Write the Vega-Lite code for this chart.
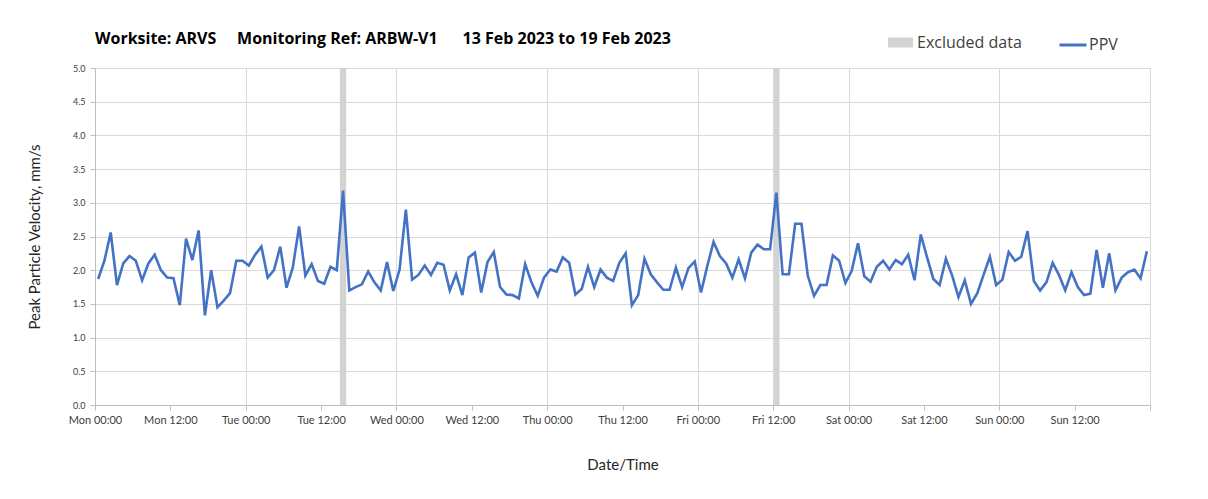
{
  "$schema": "https://vega.github.io/schema/vega-lite/v6.json",
  "width": 1055,
  "height": 337,
  "autosize": {"type": "none"},
  "padding": {"left": 95, "top": 68, "right": 58, "bottom": 94},
  "background": "white",
  "config": {"view": {"stroke": null}, "font": "Lato"},
  "title": {
    "text": "Worksite: ARVS\u00a0\u00a0\u00a0\u00a0 Monitoring Ref: ARBW-V1\u00a0\u00a0\u00a0\u00a0\u00a0 13 Feb 2023 to 19 Feb 2023",
    "anchor": "start", "frame": "group", "offset": -17, "fontSize": 16, "fontWeight": "bold", "color": "#000000", "font": "Open Sans"
  },
  "datasets": {
    "ppv": [
      {"t": "2023-02-13T00:30", "v": 1.87}, {"t": "2023-02-13T01:30", "v": 2.14}, {"t": "2023-02-13T02:30", "v": 2.56}, {"t": "2023-02-13T03:30", "v": 1.78},
      {"t": "2023-02-13T04:30", "v": 2.10}, {"t": "2023-02-13T05:30", "v": 2.21}, {"t": "2023-02-13T06:30", "v": 2.14}, {"t": "2023-02-13T07:30", "v": 1.85},
      {"t": "2023-02-13T08:30", "v": 2.10}, {"t": "2023-02-13T09:30", "v": 2.23}, {"t": "2023-02-13T10:30", "v": 2.00}, {"t": "2023-02-13T11:30", "v": 1.89},
      {"t": "2023-02-13T12:30", "v": 1.88}, {"t": "2023-02-13T13:30", "v": 1.48}, {"t": "2023-02-13T14:30", "v": 2.47}, {"t": "2023-02-13T15:30", "v": 2.15},
      {"t": "2023-02-13T16:30", "v": 2.59}, {"t": "2023-02-13T17:30", "v": 1.33}, {"t": "2023-02-13T18:30", "v": 2.00}, {"t": "2023-02-13T19:30", "v": 1.45},
      {"t": "2023-02-13T20:30", "v": 1.55}, {"t": "2023-02-13T21:30", "v": 1.66}, {"t": "2023-02-13T22:30", "v": 2.14}, {"t": "2023-02-13T23:30", "v": 2.14},
      {"t": "2023-02-14T00:30", "v": 2.07}, {"t": "2023-02-14T01:30", "v": 2.23}, {"t": "2023-02-14T02:30", "v": 2.35}, {"t": "2023-02-14T03:30", "v": 1.89},
      {"t": "2023-02-14T04:30", "v": 2.00}, {"t": "2023-02-14T05:30", "v": 2.35}, {"t": "2023-02-14T06:30", "v": 1.74}, {"t": "2023-02-14T07:30", "v": 2.04},
      {"t": "2023-02-14T08:30", "v": 2.65}, {"t": "2023-02-14T09:30", "v": 1.92}, {"t": "2023-02-14T10:30", "v": 2.09}, {"t": "2023-02-14T11:30", "v": 1.84},
      {"t": "2023-02-14T12:30", "v": 1.80}, {"t": "2023-02-14T13:30", "v": 2.05}, {"t": "2023-02-14T14:30", "v": 2.00}, {"t": "2023-02-14T15:30", "v": 3.18},
      {"t": "2023-02-14T16:30", "v": 1.70}, {"t": "2023-02-14T17:30", "v": 1.75}, {"t": "2023-02-14T18:30", "v": 1.79}, {"t": "2023-02-14T19:30", "v": 1.98},
      {"t": "2023-02-14T20:30", "v": 1.82}, {"t": "2023-02-14T21:30", "v": 1.70}, {"t": "2023-02-14T22:30", "v": 2.12}, {"t": "2023-02-14T23:30", "v": 1.69},
      {"t": "2023-02-15T00:30", "v": 2.01}, {"t": "2023-02-15T01:30", "v": 2.90}, {"t": "2023-02-15T02:30", "v": 1.86}, {"t": "2023-02-15T03:30", "v": 1.93},
      {"t": "2023-02-15T04:30", "v": 2.07}, {"t": "2023-02-15T05:30", "v": 1.93}, {"t": "2023-02-15T06:30", "v": 2.11}, {"t": "2023-02-15T07:30", "v": 2.08},
      {"t": "2023-02-15T08:30", "v": 1.70}, {"t": "2023-02-15T09:30", "v": 1.94}, {"t": "2023-02-15T10:30", "v": 1.63}, {"t": "2023-02-15T11:30", "v": 2.19},
      {"t": "2023-02-15T12:30", "v": 2.26}, {"t": "2023-02-15T13:30", "v": 1.67}, {"t": "2023-02-15T14:30", "v": 2.12}, {"t": "2023-02-15T15:30", "v": 2.27},
      {"t": "2023-02-15T16:30", "v": 1.75}, {"t": "2023-02-15T17:30", "v": 1.64}, {"t": "2023-02-15T18:30", "v": 1.63}, {"t": "2023-02-15T19:30", "v": 1.58},
      {"t": "2023-02-15T20:30", "v": 2.09}, {"t": "2023-02-15T21:30", "v": 1.82}, {"t": "2023-02-15T22:30", "v": 1.62}, {"t": "2023-02-15T23:30", "v": 1.89},
      {"t": "2023-02-16T00:30", "v": 2.01}, {"t": "2023-02-16T01:30", "v": 1.98}, {"t": "2023-02-16T02:30", "v": 2.19}, {"t": "2023-02-16T03:30", "v": 2.11},
      {"t": "2023-02-16T04:30", "v": 1.64}, {"t": "2023-02-16T05:30", "v": 1.72}, {"t": "2023-02-16T06:30", "v": 2.05}, {"t": "2023-02-16T07:30", "v": 1.75},
      {"t": "2023-02-16T08:30", "v": 2.01}, {"t": "2023-02-16T09:30", "v": 1.89}, {"t": "2023-02-16T10:30", "v": 1.84}, {"t": "2023-02-16T11:30", "v": 2.11},
      {"t": "2023-02-16T12:30", "v": 2.25}, {"t": "2023-02-16T13:30", "v": 1.48}, {"t": "2023-02-16T14:30", "v": 1.63}, {"t": "2023-02-16T15:30", "v": 2.17},
      {"t": "2023-02-16T16:30", "v": 1.94}, {"t": "2023-02-16T17:30", "v": 1.82}, {"t": "2023-02-16T18:30", "v": 1.71}, {"t": "2023-02-16T19:30", "v": 1.71},
      {"t": "2023-02-16T20:30", "v": 2.04}, {"t": "2023-02-16T21:30", "v": 1.75}, {"t": "2023-02-16T22:30", "v": 2.03}, {"t": "2023-02-16T23:30", "v": 2.13},
      {"t": "2023-02-17T00:30", "v": 1.67}, {"t": "2023-02-17T01:30", "v": 2.06}, {"t": "2023-02-17T02:30", "v": 2.42}, {"t": "2023-02-17T03:30", "v": 2.21},
      {"t": "2023-02-17T04:30", "v": 2.10}, {"t": "2023-02-17T05:30", "v": 1.89}, {"t": "2023-02-17T06:30", "v": 2.16}, {"t": "2023-02-17T07:30", "v": 1.88},
      {"t": "2023-02-17T08:30", "v": 2.26}, {"t": "2023-02-17T09:30", "v": 2.38}, {"t": "2023-02-17T10:30", "v": 2.31}, {"t": "2023-02-17T11:30", "v": 2.31},
      {"t": "2023-02-17T12:30", "v": 3.15}, {"t": "2023-02-17T13:30", "v": 1.94}, {"t": "2023-02-17T14:30", "v": 1.94}, {"t": "2023-02-17T15:30", "v": 2.69},
      {"t": "2023-02-17T16:30", "v": 2.69}, {"t": "2023-02-17T17:30", "v": 1.92}, {"t": "2023-02-17T18:30", "v": 1.62}, {"t": "2023-02-17T19:30", "v": 1.78},
      {"t": "2023-02-17T20:30", "v": 1.78}, {"t": "2023-02-17T21:30", "v": 2.22}, {"t": "2023-02-17T22:30", "v": 2.14}, {"t": "2023-02-17T23:30", "v": 1.81},
      {"t": "2023-02-18T00:30", "v": 1.99}, {"t": "2023-02-18T01:30", "v": 2.40}, {"t": "2023-02-18T02:30", "v": 1.91}, {"t": "2023-02-18T03:30", "v": 1.83},
      {"t": "2023-02-18T04:30", "v": 2.05}, {"t": "2023-02-18T05:30", "v": 2.14}, {"t": "2023-02-18T06:30", "v": 2.01}, {"t": "2023-02-18T07:30", "v": 2.15},
      {"t": "2023-02-18T08:30", "v": 2.09}, {"t": "2023-02-18T09:30", "v": 2.23}, {"t": "2023-02-18T10:30", "v": 1.85}, {"t": "2023-02-18T11:30", "v": 2.53},
      {"t": "2023-02-18T12:30", "v": 2.19}, {"t": "2023-02-18T13:30", "v": 1.87}, {"t": "2023-02-18T14:30", "v": 1.78}, {"t": "2023-02-18T15:30", "v": 2.17},
      {"t": "2023-02-18T16:30", "v": 1.92}, {"t": "2023-02-18T17:30", "v": 1.60}, {"t": "2023-02-18T18:30", "v": 1.85}, {"t": "2023-02-18T19:30", "v": 1.50},
      {"t": "2023-02-18T20:30", "v": 1.66}, {"t": "2023-02-18T21:30", "v": 1.93}, {"t": "2023-02-18T22:30", "v": 2.20}, {"t": "2023-02-18T23:30", "v": 1.78},
      {"t": "2023-02-19T00:30", "v": 1.86}, {"t": "2023-02-19T01:30", "v": 2.27}, {"t": "2023-02-19T02:30", "v": 2.14}, {"t": "2023-02-19T03:30", "v": 2.20},
      {"t": "2023-02-19T04:30", "v": 2.58}, {"t": "2023-02-19T05:30", "v": 1.84}, {"t": "2023-02-19T06:30", "v": 1.70}, {"t": "2023-02-19T07:30", "v": 1.82},
      {"t": "2023-02-19T08:30", "v": 2.11}, {"t": "2023-02-19T09:30", "v": 1.93}, {"t": "2023-02-19T10:30", "v": 1.70}, {"t": "2023-02-19T11:30", "v": 1.97},
      {"t": "2023-02-19T12:30", "v": 1.75}, {"t": "2023-02-19T13:30", "v": 1.63}, {"t": "2023-02-19T14:30", "v": 1.65}, {"t": "2023-02-19T15:30", "v": 2.30},
      {"t": "2023-02-19T16:30", "v": 1.74}, {"t": "2023-02-19T17:30", "v": 2.25}, {"t": "2023-02-19T18:30", "v": 1.70}, {"t": "2023-02-19T19:30", "v": 1.89},
      {"t": "2023-02-19T20:30", "v": 1.97}, {"t": "2023-02-19T21:30", "v": 2.01}, {"t": "2023-02-19T22:30", "v": 1.88}, {"t": "2023-02-19T23:30", "v": 2.28}
    ],
    "excluded": [
      {"start": "2023-02-14T15:00", "end": "2023-02-14T16:00"},
      {"start": "2023-02-17T12:00", "end": "2023-02-17T13:00"}
    ]
  },
  "layer": [
    {
      "data": {"name": "excluded"},
      "mark": {"type": "rect"},
      "encoding": {
        "x": {
          "field": "start", "type": "temporal",
          "scale": {"domain": [{"year": 2023, "month": 2, "date": 13}, {"year": 2023, "month": 2, "date": 20}]},
          "axis": {
            "title": "Date/Time",
            "values": [
              {"year": 2023, "month": 2, "date": 13, "hours": 0}, {"year": 2023, "month": 2, "date": 13, "hours": 12},
              {"year": 2023, "month": 2, "date": 14, "hours": 0}, {"year": 2023, "month": 2, "date": 14, "hours": 12},
              {"year": 2023, "month": 2, "date": 15, "hours": 0}, {"year": 2023, "month": 2, "date": 15, "hours": 12},
              {"year": 2023, "month": 2, "date": 16, "hours": 0}, {"year": 2023, "month": 2, "date": 16, "hours": 12},
              {"year": 2023, "month": 2, "date": 17, "hours": 0}, {"year": 2023, "month": 2, "date": 17, "hours": 12},
              {"year": 2023, "month": 2, "date": 18, "hours": 0}, {"year": 2023, "month": 2, "date": 18, "hours": 12},
              {"year": 2023, "month": 2, "date": 19, "hours": 0}, {"year": 2023, "month": 2, "date": 19, "hours": 12},
              {"year": 2023, "month": 2, "date": 20, "hours": 0}
            ],
            "labelExpr": "date(datum.value) == 20 ? '' : timeFormat(datum.value, '%a %H:%M')",
            "grid": true,
            "gridColor": "#d9d9d9",
            "gridOpacity": {"condition": {"test": "hours(datum.value) == 0 && date(datum.value) != 13", "value": 1}, "value": 0},
            "domainColor": "#bfbfbf",
            "tickColor": "#bfbfbf",
            "tickSize": 5,
            "labelFontSize": 11,
            "labelColor": "#404040",
            "labelPadding": 4,
            "labelFlush": false,
            "labelOverlap": false,
            "titleFontSize": 15,
            "titleFontWeight": "normal",
            "titleColor": "#262626",
            "titlePadding": 32
          }
        },
        "x2": {"field": "end"},
        "fill": {
          "datum": "Excluded data", "type": "nominal",
          "scale": {"range": ["#d3d3d3"]},
          "legend": {
            "orient": "none", "legendX": 793, "legendY": -38, "title": null, "padding": 0,
            "symbolType": "M-1,-0.4H1V0.4H-1Z", "symbolSize": 625, "symbolStrokeWidth": 0,
            "labelFont": "Open Sans", "labelFontSize": 16, "labelColor": "#404040", "labelOffset": 4
          }
        }
      }
    },
    {
      "data": {"name": "ppv"},
      "mark": {"type": "line", "strokeWidth": 2.6},
      "encoding": {
        "x": {"field": "t", "type": "temporal"},
        "y": {
          "field": "v", "type": "quantitative",
          "scale": {"domain": [0, 5], "nice": false},
          "axis": {
            "title": "Peak Particle Velocity, mm/s",
            "values": [0, 0.5, 1, 1.5, 2, 2.5, 3, 3.5, 4, 4.5, 5],
            "format": ".1f",
            "gridColor": "#d9d9d9",
            "domainColor": "#bfbfbf",
            "tickColor": "#bfbfbf",
            "tickSize": 5,
            "labelFontSize": 9,
            "labelColor": "#404040",
            "labelPadding": 5,
            "titleFontSize": 15,
            "titleFontWeight": "normal",
            "titleColor": "#262626",
            "titlePadding": 30
          }
        },
        "stroke": {
          "datum": "PPV", "type": "nominal",
          "scale": {"range": ["#4472c4"]},
          "legend": {
            "orient": "none", "legendX": 963, "legendY": -38, "title": null, "padding": 0,
            "symbolType": "stroke", "symbolSize": 729, "symbolStrokeWidth": 3,
            "labelFont": "Open Sans", "labelFontSize": 16, "labelColor": "#404040", "labelOffset": 1
          }
        }
      }
    }
  ]
}
